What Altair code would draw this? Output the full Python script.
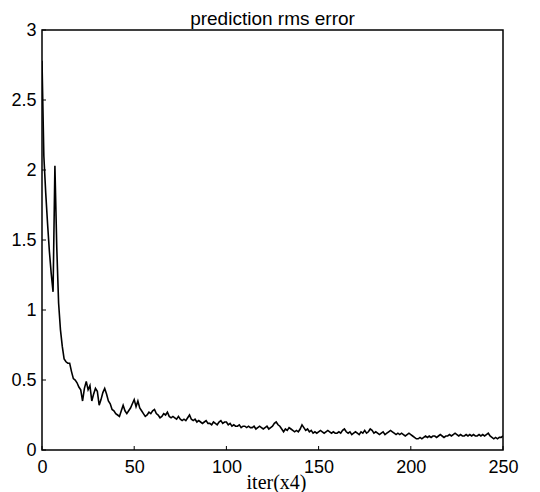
import altair as alt
import pandas as pd

rms_error = [
    2.78, 2.10, 1.84, 1.62, 1.42, 1.26, 1.13, 2.03, 1.45, 1.05, 0.86,
    0.74, 0.65, 0.63, 0.62, 0.62, 0.56, 0.51, 0.50, 0.48, 0.45,
    0.43, 0.35, 0.44, 0.49, 0.43, 0.46, 0.35, 0.40, 0.44, 0.42,
    0.32, 0.36, 0.41, 0.44, 0.40, 0.35, 0.33, 0.29, 0.28, 0.26,
    0.25, 0.24, 0.28, 0.32, 0.28, 0.26, 0.28, 0.30, 0.33, 0.36,
    0.31, 0.35, 0.30, 0.28, 0.26, 0.24, 0.25, 0.27, 0.26, 0.28,
    0.29, 0.26, 0.25, 0.23, 0.24, 0.26, 0.25, 0.27, 0.24, 0.23,
    0.24, 0.23, 0.22, 0.24, 0.22, 0.21, 0.22, 0.21, 0.23, 0.25,
    0.22, 0.21, 0.22, 0.20, 0.21, 0.20, 0.19, 0.20, 0.21, 0.19,
    0.19, 0.18, 0.20, 0.19, 0.18, 0.20, 0.21, 0.19, 0.20, 0.20,
    0.18, 0.19, 0.17, 0.18, 0.17, 0.17, 0.18, 0.16, 0.17, 0.17,
    0.16, 0.17, 0.16, 0.16, 0.17, 0.15, 0.16, 0.17, 0.16, 0.15,
    0.16, 0.17, 0.15, 0.16, 0.17, 0.19, 0.20, 0.18, 0.17, 0.15,
    0.13, 0.15, 0.14, 0.16, 0.15, 0.14, 0.13, 0.14, 0.13, 0.15,
    0.18, 0.16, 0.14, 0.15, 0.13, 0.14, 0.12, 0.13, 0.12, 0.13,
    0.14, 0.13, 0.12, 0.13, 0.14, 0.13, 0.12, 0.13, 0.12, 0.12,
    0.13, 0.12, 0.14, 0.15, 0.13, 0.12, 0.13, 0.11, 0.12, 0.13,
    0.12, 0.11, 0.13, 0.12, 0.14, 0.12, 0.13, 0.15, 0.14, 0.12,
    0.13, 0.12, 0.11, 0.12, 0.13, 0.11, 0.12, 0.13, 0.14, 0.13,
    0.12, 0.11, 0.12, 0.11, 0.12, 0.11, 0.10, 0.11, 0.12, 0.11,
    0.10, 0.09, 0.08, 0.08, 0.09, 0.08, 0.09, 0.10, 0.09, 0.10,
    0.09, 0.10, 0.10, 0.09, 0.10, 0.11, 0.10, 0.09, 0.10, 0.10,
    0.11, 0.10, 0.11, 0.12, 0.11, 0.10, 0.11, 0.10, 0.10, 0.11,
    0.10, 0.11, 0.10, 0.11, 0.10, 0.10, 0.11, 0.10, 0.11, 0.10,
    0.11, 0.12, 0.10, 0.09, 0.08, 0.09, 0.08, 0.09, 0.09, 0.10,
]
iterations = list(range(len(rms_error)))

x_ticks = [0, 50, 100, 150, 200, 250]
y_ticks = [0, 0.5, 1, 1.5, 2, 2.5, 3]

df = pd.DataFrame({"iter": iterations, "err": rms_error})
xt = pd.DataFrame({"t": x_ticks})
yt = pd.DataFrame({"t": y_ticks})

W, H = 461, 420
sans = "Liberation Sans"

xscale = alt.Scale(domain=[0, 250], nice=False, zero=False)
yscale = alt.Scale(domain=[0, 3], nice=False, zero=False)

line = alt.Chart(df).mark_line(color="black", strokeWidth=1.6, clip=True).encode(
    x=alt.X(
        "iter:Q",
        scale=xscale,
        axis=alt.Axis(
            values=x_ticks, ticks=False, domain=False, grid=False,
            labelExpr="'' + datum.value", labelFlush=False,
            labelFont=sans, labelFontSize=18, labelColor="black",
            labelPadding=8, title="iter(x4)", titleFont="Liberation Serif",
            titleFontSize=20, titleFontWeight="normal", titleColor="black",
            titleY=32, titleBaseline="middle", titleX=234,
        ),
    ),
    y=alt.Y(
        "err:Q",
        scale=yscale,
        axis=alt.Axis(
            values=y_ticks, ticks=False, domain=False, grid=False,
            labelExpr="'' + datum.value",
            labelFont=sans, labelFontSize=18, labelColor="black",
            labelPadding=6, title=None, labelFlush=False,
        ),
    ),
)

xtick = alt.Chart(xt).mark_rule(color="black", strokeWidth=1).encode(
    x=alt.X("t:Q", scale=xscale),
    y=alt.value(H),
    y2=alt.value(H - 4),
)
ytick = alt.Chart(yt).mark_rule(color="black", strokeWidth=1).encode(
    y=alt.Y("t:Q", scale=yscale),
    x=alt.value(0),
    x2=alt.value(4),
)

chart = (
    alt.layer(line, xtick, ytick)
    .properties(
        width=W,
        height=H,
        background="white",
        title=alt.TitleParams(
            "prediction rms error", font=sans, fontSize=19,
            fontWeight="normal", color="black", anchor="middle", offset=5,
            dy=13,
        ),
        autosize=alt.AutoSizeParams(type="none"),
        padding={"left": 34, "top": 22, "right": 29, "bottom": 52},
    )
    .configure_view(stroke="black", strokeWidth=1.5)
)

chart.save("out.html", embed_options={"renderer": "svg", "actions": False})
